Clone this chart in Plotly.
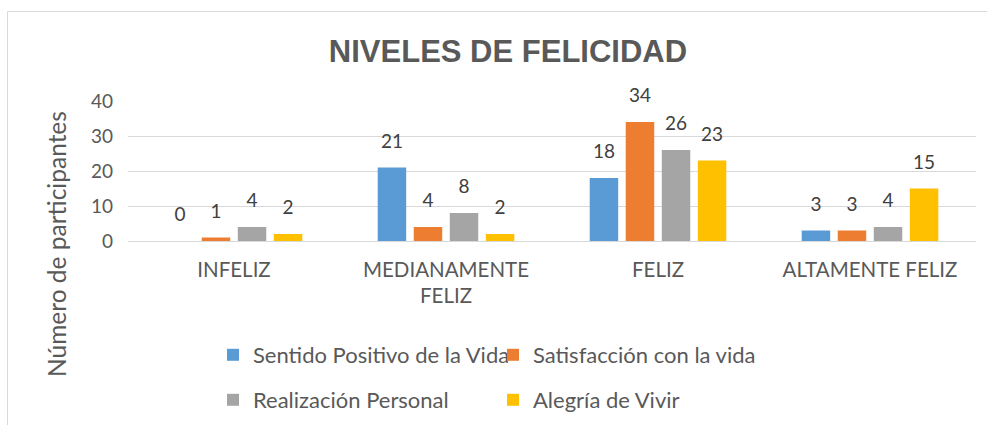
import plotly.graph_objects as go

categories = ["INFELIZ", "MEDIANAMENTE<br>FELIZ", "FELIZ", "ALTAMENTE FELIZ"]
series_names = ["Sentido Positivo de la Vida", "Satisfacción con la vida",
                "Realización Personal", "Alegría de Vivir"]
sentido = [0, 21, 18, 3]
satisfaccion = [1, 4, 34, 3]
realizacion = [4, 8, 26, 4]
alegria = [2, 2, 23, 15]
colors = ["#5B9BD5", "#ED7D31", "#A5A5A5", "#FFC000"]
y_ticks = [0, 10, 20, 30, 40]
label_lift = 3.6  # spacing between bar top and its value label (axis units)

W, H = 987, 425
L, R, T, B = 128, 11, 101, 184
pw, ph = W - L - R, H - T - B

def px(x):
    return (x - L) / pw

def py(y):
    return (H - B - y) / ph

font = "Lato, 'Open Sans', sans-serif"
fig = go.Figure()
all_vals = [sentido, satisfaccion, realizacion, alegria]
for i, (name, vals, c) in enumerate(zip(series_names, all_vals, colors)):
    fig.add_trace(go.Bar(
        x=categories, y=vals, name=name, marker_color=c, marker_line_width=0,
        offsetgroup=str(i), hoverinfo="y+name",
        legend="legend" if i < 2 else "legend2",
    ))
    # transparent spacer carrying the value label above each bar
    fig.add_trace(go.Bar(
        x=categories, y=[label_lift] * len(vals), base=vals, offsetgroup=str(i),
        marker_color="rgba(0,0,0,0)", marker_line_width=0, showlegend=False,
        text=[str(v) for v in vals], textposition="outside",
        textfont=dict(size=19, color="#404040", family=font),
        cliponaxis=False, hoverinfo="skip",
    ))

leg_common = dict(orientation="h", xanchor="left", yanchor="middle",
                  xref="container", yref="container",
                  entrywidth=235, entrywidthmode="pixels",
                  font=dict(size=22, color="#595959", family=font),
                  itemclick=False, bgcolor="rgba(0,0,0,0)", tracegroupgap=0,
                  traceorder="normal")

fig.update_layout(
    width=W, height=H,
    margin=dict(l=L, r=R, t=T, b=B, autoexpand=False),
    paper_bgcolor="white", plot_bgcolor="white",
    barmode="group", bargap=0.32, bargroupgap=0.21,
    title=dict(text="<b>NIVELES DE FELICIDAD</b>", x=508 / W, xanchor="center",
               y=1 - 51 / H, yanchor="middle",
               font=dict(family="'Liberation Sans', Arial, sans-serif", size=31, color="#595959")),
    font=dict(family=font, color="#595959"),
    legend=dict(x=213 / W, y=1 - 355 / H, **leg_common),
    legend2=dict(x=213 / W, y=1 - 400 / H, **leg_common),
)

fig.update_yaxes(range=[0, 40], tickvals=y_ticks, showgrid=True, gridcolor="#D9D9D9",
                 gridwidth=1, zeroline=False, showline=False, ticks="",
                 tickfont=dict(size=19, color="#595959", family=font), ticklabelstandoff=14)
fig.update_xaxes(showline=True, linecolor="#D9D9D9", linewidth=1, ticks="",
                 tickfont=dict(size=20.5, color="#595959", family=font), ticklabelstandoff=10)

fig.add_annotation(text="Número de participantes", textangle=-90, xref="paper", yref="paper",
                   x=px(56), y=py(244), showarrow=False, xanchor="center", yanchor="middle",
                   font=dict(size=24.5, color="#595959", family=font))

fig.add_shape(type="rect", xref="paper", yref="paper",
              x0=px(7.5), x1=px(1000), y0=py(11.5), y1=py(440),
              line=dict(color="#D9D9D9", width=1), fillcolor="rgba(0,0,0,0)", layer="below")

fig.write_html("out.html", config={"displayModeBar": False},
               post_script="document.body.style.margin='0';")
